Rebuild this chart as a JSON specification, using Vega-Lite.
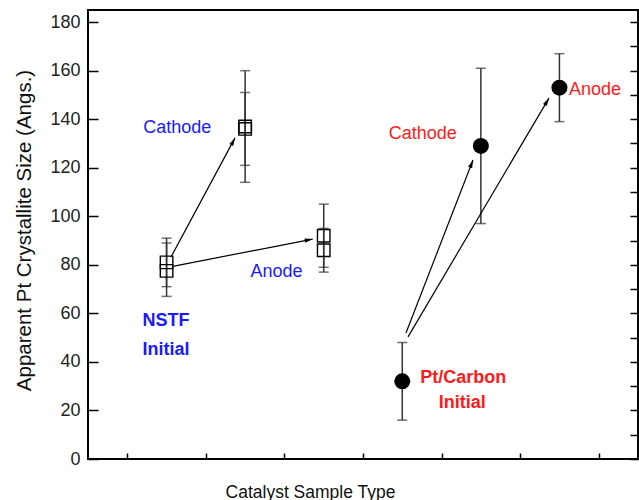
{
  "$schema": "https://vega.github.io/schema/vega-lite/v6.json",
  "width": 550,
  "height": 449,
  "autosize": {"type": "none"},
  "padding": {"left": 88, "top": 10, "right": 1, "bottom": 41},
  "background": "white",
  "config": {
    "view": {"stroke": "black", "strokeWidth": 2},
    "font": "Liberation Sans",
    "axis": {
      "labelFont": "Liberation Sans",
      "labelFontSize": 18,
      "labelColor": "#222222",
      "titleFont": "Liberation Sans",
      "titleFontSize": 18,
      "titleFontWeight": "normal",
      "titleColor": "#111111",
      "tickColor": "black",
      "tickWidth": 1.5,
      "domain": false,
      "grid": false
    }
  },
  "datasets": {
    "crystallite": [
      {"catalyst": "NSTF", "stage": "Initial", "pos": 1.5, "size": 81, "lo": 71, "hi": 91},
      {"catalyst": "NSTF", "stage": "Initial", "pos": 1.5, "size": 77.5, "lo": 67, "hi": 89},
      {"catalyst": "NSTF", "stage": "Cathode", "pos": 2.5, "size": 137, "lo": 114, "hi": 160},
      {"catalyst": "NSTF", "stage": "Cathode", "pos": 2.5, "size": 136, "lo": 121, "hi": 151},
      {"catalyst": "NSTF", "stage": "Anode", "pos": 3.5, "size": 92, "lo": 79, "hi": 105},
      {"catalyst": "NSTF", "stage": "Anode", "pos": 3.5, "size": 86, "lo": 77, "hi": 95},
      {"catalyst": "Pt/Carbon", "stage": "Initial", "pos": 4.5, "size": 32, "lo": 16, "hi": 48},
      {"catalyst": "Pt/Carbon", "stage": "Cathode", "pos": 5.5, "size": 129, "lo": 97, "hi": 161},
      {"catalyst": "Pt/Carbon", "stage": "Anode", "pos": 6.5, "size": 153, "lo": 139, "hi": 167}
    ],
    "transitions": [
      {"id": "nstf-cathode", "x1": 1.556, "y1": 83.2, "x2": 2.371, "y2": 132.3},
      {"id": "nstf-anode", "x1": 1.595, "y1": 79.5, "x2": 3.36, "y2": 90.6},
      {"id": "ptc-cathode", "x1": 4.547, "y1": 51.9, "x2": 5.4, "y2": 123.2},
      {"id": "ptc-anode", "x1": 4.573, "y1": 50.3, "x2": 6.367, "y2": 148.7}
    ],
    "notes": [
      {"text": "Cathode", "catalyst": "NSTF", "role": "aged", "x": 1.635, "y": 134.3},
      {"text": "Anode", "catalyst": "NSTF", "role": "aged", "x": 2.899, "y": 75.1},
      {"text": "NSTF", "catalyst": "NSTF", "role": "initial", "x": 1.493, "y": 54.8},
      {"text": "Initial", "catalyst": "NSTF", "role": "initial", "x": 1.493, "y": 42.8},
      {"text": "Cathode", "catalyst": "Pt/Carbon", "role": "aged", "x": 4.761, "y": 131.7},
      {"text": "Anode", "catalyst": "Pt/Carbon", "role": "aged", "x": 6.953, "y": 150.0},
      {"text": "Pt/Carbon", "catalyst": "Pt/Carbon", "role": "initial", "x": 5.277, "y": 31.4},
      {"text": "Initial", "catalyst": "Pt/Carbon", "role": "initial", "x": 5.263, "y": 20.9}
    ]
  },
  "layer": [
    {
      "layer": [
        {
          "data": {"name": "crystallite"},
          "mark": {"type": "rule", "color": "#333333", "strokeWidth": 1.5},
          "encoding": {
            "x": {"field": "pos", "type": "quantitative", "scale": {"domain": [0.5, 7.5], "nice": false, "zero": false},
              "axis": {"values": [1, 2, 3, 4, 5, 6, 7], "labels": false, "tickSize": -6, "title": "Catalyst Sample Type", "titleFontSize": 17.5, "titleX": 222, "titleY": 38, "titleAlign": "center", "titleBaseline": "alphabetic"}},
            "y": {"field": "lo", "type": "quantitative", "scale": {"domain": [0, 185], "nice": false, "zero": false},
              "axis": {
                "orient": "left",
                "values": [0, 10, 20, 30, 40, 50, 60, 70, 80, 90, 100, 110, 120, 130, 140, 150, 160, 170, 180],
                "labelExpr": "datum.value % 20 === 0 ? datum.label : ''",
                "tickSize": {"condition": {"test": "datum.value % 20 === 0", "value": -10}, "value": -6},
                "labelPadding": 18,
                "title": "Apparent Pt Crystallite Size (Angs.)",
                "titleFontSize": 20.5,
                "titleAngle": -90,
                "titleX": -58,
                "titleY": 220,
                "titleAlign": "center",
                "titleBaseline": "alphabetic"
              }},
            "y2": {"field": "hi"}
          }
        },
        {
          "data": {"name": "crystallite"},
          "mark": {"type": "tick", "orient": "horizontal", "size": 10, "thickness": 1.5, "color": "#333333"},
          "encoding": {
            "x": {"field": "pos", "type": "quantitative", "scale": {"domain": [0.5, 7.5], "nice": false, "zero": false}},
            "y": {"field": "lo", "type": "quantitative", "scale": {"domain": [0, 185], "nice": false, "zero": false}}
          }
        },
        {
          "data": {"name": "crystallite"},
          "mark": {"type": "tick", "orient": "horizontal", "size": 10, "thickness": 1.5, "color": "#333333"},
          "encoding": {
            "x": {"field": "pos", "type": "quantitative", "scale": {"domain": [0.5, 7.5], "nice": false, "zero": false}},
            "y": {"field": "hi", "type": "quantitative", "scale": {"domain": [0, 185], "nice": false, "zero": false}}
          }
        },
        {
          "data": {"name": "transitions"},
          "mark": {"type": "rule", "color": "black", "strokeWidth": 1.2},
          "encoding": {
            "x": {"field": "x1", "type": "quantitative", "scale": {"domain": [0.5, 7.5], "nice": false, "zero": false}},
            "y": {"field": "y1", "type": "quantitative", "scale": {"domain": [0, 185], "nice": false, "zero": false}},
            "x2": {"field": "x2"},
            "y2": {"field": "y2"}
          }
        },
        {
          "data": {"name": "transitions"},
          "transform": [{"filter": "datum.id === 'nstf-cathode'"}],
          "mark": {"type": "point", "shape": "M0,0L0.55,2L-0.55,2Z", "size": 64, "filled": true, "color": "black", "opacity": 1, "angle": 28},
          "encoding": {
            "x": {"field": "x2", "type": "quantitative", "scale": {"domain": [0.5, 7.5], "nice": false, "zero": false}},
            "y": {"field": "y2", "type": "quantitative", "scale": {"domain": [0, 185], "nice": false, "zero": false}}
          }
        },
        {
          "data": {"name": "transitions"},
          "transform": [{"filter": "datum.id === 'nstf-anode'"}],
          "mark": {"type": "point", "shape": "M0,0L0.55,2L-0.55,2Z", "size": 64, "filled": true, "color": "black", "opacity": 1, "angle": 79},
          "encoding": {
            "x": {"field": "x2", "type": "quantitative", "scale": {"domain": [0.5, 7.5], "nice": false, "zero": false}},
            "y": {"field": "y2", "type": "quantitative", "scale": {"domain": [0, 185], "nice": false, "zero": false}}
          }
        },
        {
          "data": {"name": "transitions"},
          "transform": [{"filter": "datum.id === 'ptc-cathode'"}],
          "mark": {"type": "point", "shape": "M0,0L0.55,2L-0.55,2Z", "size": 64, "filled": true, "color": "black", "opacity": 1, "angle": 21},
          "encoding": {
            "x": {"field": "x2", "type": "quantitative", "scale": {"domain": [0.5, 7.5], "nice": false, "zero": false}},
            "y": {"field": "y2", "type": "quantitative", "scale": {"domain": [0, 185], "nice": false, "zero": false}}
          }
        },
        {
          "data": {"name": "transitions"},
          "transform": [{"filter": "datum.id === 'ptc-anode'"}],
          "mark": {"type": "point", "shape": "M0,0L0.55,2L-0.55,2Z", "size": 64, "filled": true, "color": "black", "opacity": 1, "angle": 30.5},
          "encoding": {
            "x": {"field": "x2", "type": "quantitative", "scale": {"domain": [0.5, 7.5], "nice": false, "zero": false}},
            "y": {"field": "y2", "type": "quantitative", "scale": {"domain": [0, 185], "nice": false, "zero": false}}
          }
        },
        {
          "data": {"name": "crystallite"},
          "transform": [{"filter": "datum.catalyst === 'NSTF'"}],
          "mark": {"type": "point", "shape": "square", "size": 156, "filled": false, "stroke": "black", "strokeWidth": 1.4, "opacity": 1},
          "encoding": {
            "x": {"field": "pos", "type": "quantitative", "scale": {"domain": [0.5, 7.5], "nice": false, "zero": false}},
            "y": {"field": "size", "type": "quantitative", "scale": {"domain": [0, 185], "nice": false, "zero": false}}
          }
        },
        {
          "data": {"name": "crystallite"},
          "transform": [{"filter": "datum.catalyst === 'Pt/Carbon'"}],
          "mark": {"type": "point", "shape": "circle", "size": 256, "filled": true, "color": "black", "opacity": 1},
          "encoding": {
            "x": {"field": "pos", "type": "quantitative", "scale": {"domain": [0.5, 7.5], "nice": false, "zero": false}},
            "y": {"field": "size", "type": "quantitative", "scale": {"domain": [0, 185], "nice": false, "zero": false}}
          }
        },
        {
          "data": {"name": "notes"},
          "transform": [{"filter": "datum.role === 'aged'"}],
          "mark": {"type": "text", "fontSize": 18, "font": "Liberation Sans", "align": "center", "baseline": "alphabetic"},
          "encoding": {
            "x": {"field": "x", "type": "quantitative", "scale": {"domain": [0.5, 7.5], "nice": false, "zero": false}},
            "y": {"field": "y", "type": "quantitative", "scale": {"domain": [0, 185], "nice": false, "zero": false}},
            "text": {"field": "text"},
            "color": {"field": "catalyst", "type": "nominal", "scale": {"domain": ["NSTF", "Pt/Carbon"], "range": ["#1a1aff", "#ff1a1a"]}, "legend": null}
          }
        },
        {
          "data": {"name": "notes"},
          "transform": [{"filter": "datum.role === 'initial'"}],
          "mark": {"type": "text", "fontSize": 18, "font": "Liberation Sans", "fontWeight": "bold", "align": "center", "baseline": "alphabetic"},
          "encoding": {
            "x": {"field": "x", "type": "quantitative", "scale": {"domain": [0.5, 7.5], "nice": false, "zero": false}},
            "y": {"field": "y", "type": "quantitative", "scale": {"domain": [0, 185], "nice": false, "zero": false}},
            "text": {"field": "text"},
            "color": {"field": "catalyst", "type": "nominal", "scale": {"domain": ["NSTF", "Pt/Carbon"], "range": ["#1a1aff", "#ff1a1a"]}, "legend": null}
          }
        }
      ]
    },
    {
      "data": {"name": "crystallite"},
      "mark": {"type": "point", "opacity": 0},
      "encoding": {
        "x": {"field": "pos", "type": "quantitative", "scale": {"domain": [0.5, 7.5], "nice": false, "zero": false}},
        "y": {"field": "size", "type": "quantitative", "scale": {"domain": [0, 185], "nice": false, "zero": false},
          "axis": {
            "orient": "right",
            "values": [0, 10, 20, 30, 40, 50, 60, 70, 80, 90, 100, 110, 120, 130, 140, 150, 160, 170, 180],
            "labels": false,
            "tickSize": -8,
            "title": null
          }}
      }
    }
  ],
  "resolve": {"axis": {"y": "independent"}}
}
